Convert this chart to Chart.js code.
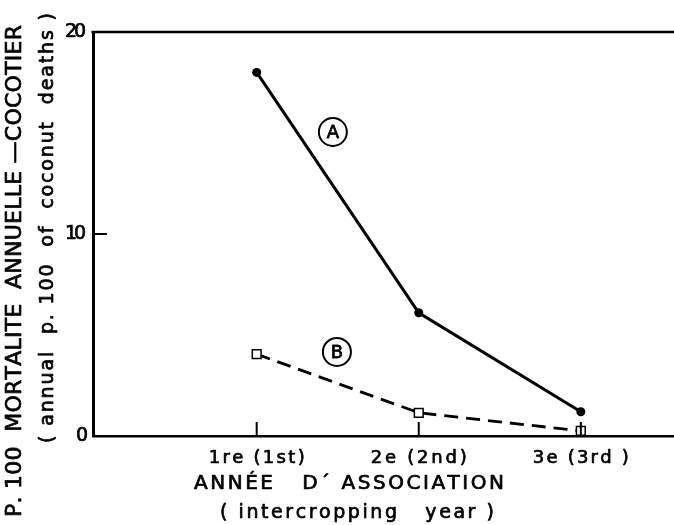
<!DOCTYPE html>
<html>
<head>
<meta charset="utf-8">
<script src="https://cdn.jsdelivr.net/npm/chart.js@4"></script>
<style>
  html, body { margin: 0; padding: 0; background: #fff; }
  canvas { display: block; }
</style>
</head>
<body>
<canvas id="chart" width="674" height="525"></canvas>
<script>
// --- data ---
const xValues = [1, 2, 3];
const xLabels = ['1re (1st)', '2e (2nd)', '3e (3rd )'];
const seriesA = [18.0, 6.1, 1.2];
const seriesB = [4.05, 1.15, 0.25];
const yTicks = [0, 10, 20];
const seriesNames = ['A', 'B'];

const yTitleOuter = 'P. 100  MORTALITE  ANNUELLE \u2014COCOTIER';
const yTitleInner = '( annual  p. 100  of  coconut  deaths )';
const xTitle1 = 'ANNÉE   D\u00B4 ASSOCIATION';
const xTitle2 = '( intercropping   year )';

const FONT = '"DejaVu Sans", sans-serif';

// spread the characters of a string over a given length (old stencil lettering is wide),
// with a thin outline so the strokes get the medium weight of the lettering
function spreadText(ctx, text, x0, y, span) {
    const chars = [...text];
    const widths = chars.map(c => ctx.measureText(c).width);
    const total = widths.reduce((s, w) => s + w, 0);
    const gap = (span - total) / (chars.length - 1);
    let x = x0;
    ctx.lineWidth = 0.7;
    ctx.lineJoin = 'round';
    chars.forEach((c, i) => {
        ctx.fillText(c, x, y);
        ctx.strokeText(c, x, y);
        x += widths[i] + gap;
    });
}

function line(ctx, x1, y1, x2, y2) {
    ctx.beginPath();
    ctx.moveTo(x1, y1);
    ctx.lineTo(x2, y2);
    ctx.stroke();
}

// where the circled curve names sit, in data units
const namePos = { A: [1.47, 15.05], B: [1.495, 4.16] };

const decor = {
    id: 'decor',
    afterDraw(chart) {
        const { ctx, chartArea: a, scales: { x, y } } = chart;
        ctx.save();
        ctx.strokeStyle = '#000';
        ctx.fillStyle = '#000';
        ctx.lineCap = 'butt';

        // top frame line
        ctx.lineWidth = 2.5;
        line(ctx, a.left - 1.5, a.top, a.right, a.top);

        // inward tick marks
        ctx.lineWidth = 2;
        xValues.forEach(v => {
            const px = x.getPixelForValue(v);
            line(ctx, px, a.bottom, px, a.bottom - 14);
        });
        yTicks.slice(1, -1).forEach(v => {
            const py = y.getPixelForValue(v);
            line(ctx, a.left, py, a.left + 14, py);
        });

        // y tick labels
        ctx.textBaseline = 'middle';
        ctx.textAlign = 'left';
        ctx.font = '19px ' + FONT;
        yTicks.forEach(v => {
            const py = y.getPixelForValue(v);
            const s = String(v);
            const w = s.length === 1 ? 10 : 21;
            spreadText(ctx, s, a.left - 7 - w, py, w);
        });

        // x tick labels
        ctx.font = '18px ' + FONT;
        xValues.forEach((v, i) => {
            const px = x.getPixelForValue(v);
            spreadText(ctx, xLabels[i], px - 48, 458, 96);
        });

        // x axis titles
        ctx.font = '20px ' + FONT;
        spreadText(ctx, xTitle1, 194, 484, 310);
        ctx.font = '19px ' + FONT;
        spreadText(ctx, xTitle2, 220, 513, 274);

        // y axis titles (rotated)
        ctx.save();
        ctx.translate(15, 271);
        ctx.rotate(-Math.PI / 2);
        ctx.font = '22px ' + FONT;
        spreadText(ctx, yTitleOuter, -246, 0, 492);
        ctx.restore();

        ctx.save();
        ctx.translate(48, 228);
        ctx.rotate(-Math.PI / 2);
        ctx.font = '19px ' + FONT;
        spreadText(ctx, yTitleInner, -215, 0, 430);
        ctx.restore();

        // circled names of the curves
        seriesNames.forEach(n => {
            const [vx, vy] = namePos[n];
            const cx = x.getPixelForValue(vx);
            const cy = y.getPixelForValue(vy);
            ctx.lineWidth = 2;
            ctx.beginPath();
            ctx.arc(cx, cy, 14, 0, Math.PI * 2);
            ctx.stroke();
            ctx.font = '18px ' + FONT;
            ctx.textAlign = 'center';
            ctx.lineWidth = 0.8;
            ctx.fillText(n, cx, cy + 1);
            ctx.strokeText(n, cx, cy + 1);
        });

        ctx.restore();
    }
};

const ctx = document.getElementById('chart').getContext('2d');
new Chart(ctx, {
    type: 'line',
    data: {
        datasets: [
            {
                label: seriesNames[0],
                data: xValues.map((v, i) => ({ x: v, y: seriesA[i] })),
                borderColor: '#000',
                backgroundColor: '#000',
                borderWidth: 3,
                pointStyle: 'circle',
                pointRadius: 4.5,
                pointBorderWidth: 0,
                tension: 0,
                clip: false
            },
            {
                label: seriesNames[1],
                data: xValues.map((v, i) => ({ x: v, y: seriesB[i] })),
                borderColor: '#000',
                backgroundColor: '#fff',
                borderWidth: 2.8,
                borderDash: [14, 8],
                pointStyle: 'rect',
                pointRadius: 6.2,
                pointBorderWidth: 1.5,
                tension: 0,
                clip: false
            }
        ]
    },
    options: {
        responsive: false,
        animation: false,
        devicePixelRatio: 1,
        layout: { autoPadding: false, padding: { top: 32, right: 0, bottom: 0, left: 0 } },
        plugins: { legend: { display: false }, tooltip: { enabled: false } },
        scales: {
            x: {
                type: 'linear',
                min: -0.01,
                max: 3.575,
                afterBuildTicks: s => { s.ticks = xValues.map(v => ({ value: v })); },
                afterFit: s => { s.height = 89; },
                grid: { display: false, drawTicks: false },
                border: { display: true, color: '#000', width: 2.5 },
                ticks: { display: false }
            },
            y: {
                min: 0,
                max: 20,
                afterBuildTicks: s => { s.ticks = yTicks.map(v => ({ value: v })); },
                afterFit: s => { s.width = 93; },
                grid: { display: false, drawTicks: false },
                border: { display: true, color: '#000', width: 3 },
                ticks: { display: false }
            }
        }
    },
    plugins: [decor]
});
</script>
</body>
</html>
